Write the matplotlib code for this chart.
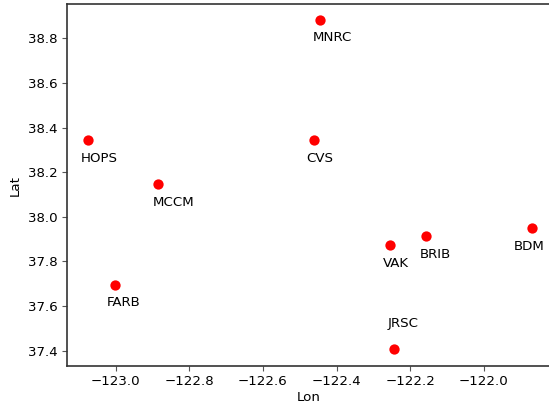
import matplotlib
matplotlib.use("Agg")
import matplotlib.pyplot as plt

stations = ["MNRC", "HOPS", "CVS", "MCCM", "VAK", "BRIB", "BDM", "FARB", "JRSC"]
lons = [-122.445, -123.075, -122.461, -122.884, -122.254, -122.156, -121.870, -123.001, -122.243]
lats = [38.882, 38.342, 38.342, 38.145, 37.873, 37.914, 37.950, 37.696, 37.408]
label_above = [False, False, False, False, False, False, False, False, True]
label_dx = [-7, -7, -8, -6, -7, -7, -18, -8, -7]

fig = plt.figure(figsize=(5.49, 4.08), dpi=100)
ax = fig.add_axes([0.122, 0.103, 0.88, 0.887])

ax.scatter(lons, lats, s=55, color="red", zorder=3, linewidths=0)
for name, x, y, up, dx in zip(stations, lons, lats, label_above, label_dx):
    if up:
        ax.annotate(name, (x, y), xytext=(dx, 19), textcoords="offset pixels",
                    ha="left", va="bottom", fontsize=9.6)
    else:
        ax.annotate(name, (x, y), xytext=(dx, -11.5), textcoords="offset pixels",
                    ha="left", va="top", fontsize=9.6)

ax.set_xlim(-123.132, -121.82)
ax.set_ylim(37.332, 38.953)
ax.set_xticks([-123.0, -122.8, -122.6, -122.4, -122.2, -122.0])
ax.set_yticks([37.4, 37.6, 37.8, 38.0, 38.2, 38.4, 38.6, 38.8])
ax.tick_params(labelsize=9.6, length=3.5, color="#555555", pad=3)
ax.set_xlabel("Lon", fontsize=9.6, labelpad=2)
ax.set_ylabel("Lat", fontsize=9.6, labelpad=5)
for sp in ax.spines.values():
    sp.set_color("#333333")
    sp.set_linewidth(1.2)
ax.spines["right"].set_visible(False)

fig.savefig("out.png", dpi=100)
